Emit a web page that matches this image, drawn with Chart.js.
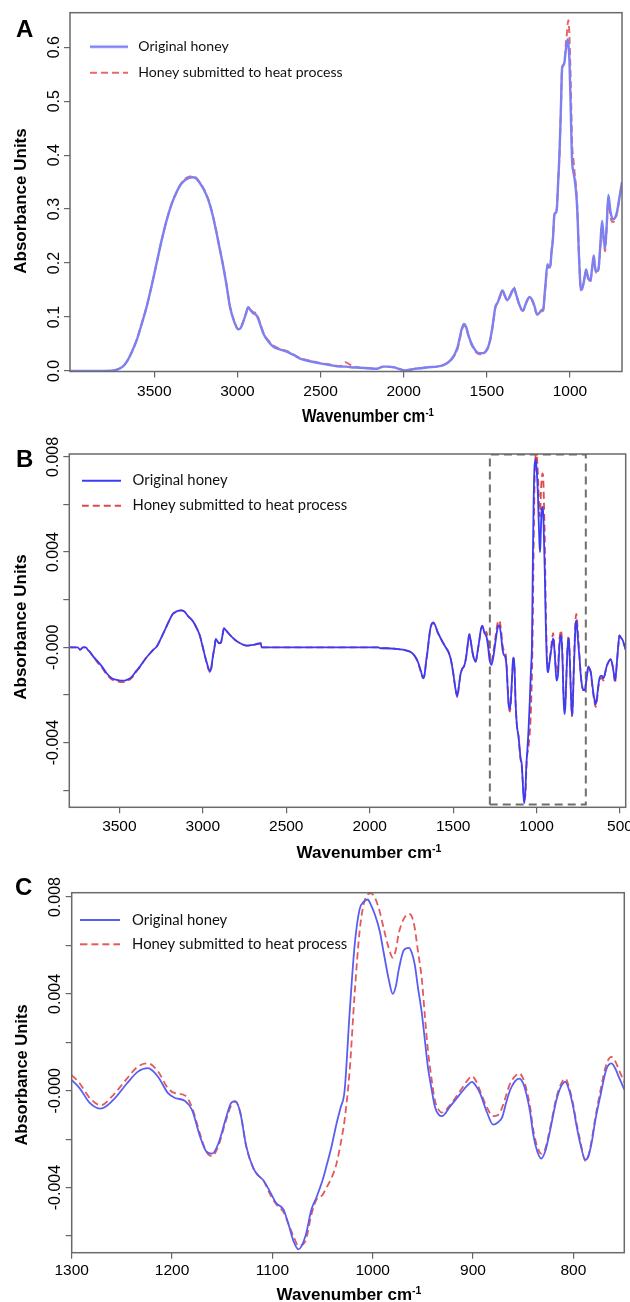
<!DOCTYPE html>
<html><head><meta charset="utf-8">
<script src="https://cdn.jsdelivr.net/npm/chart.js@4.4.1/dist/chart.umd.min.js"></script>
<style>
html,body{margin:0;padding:0;background:#fff;}
body{width:630px;height:1302px;position:relative;overflow:hidden;}
canvas{position:absolute;left:0;}
.lbl{position:absolute;font:bold 24px 'Liberation Sans',Arial,sans-serif;line-height:1;color:#000;}
.ttl{position:absolute;font-family:'Liberation Sans',Arial,sans-serif;font-weight:bold;line-height:1;color:#000;white-space:nowrap;}
.ttl sup{font-size:62%;vertical-align:0.5em;line-height:0;}
</style></head><body>
<canvas id="cA" width="630" height="430" style="top:0"></canvas>
<canvas id="cB" width="630" height="435" style="top:430px"></canvas>
<canvas id="cC" width="630" height="445" style="top:865px"></canvas>
<div class="lbl" style="left:16px;top:17px">A</div>
<div class="lbl" style="left:16px;top:447px">B</div>
<div class="lbl" style="left:15px;top:875px">C</div>
<div class="ttl" style="font-size:18px;left:368px;top:415.5px;transform:translate(-50%,-50%) scaleX(0.86)">Wavenumber cm<sup>-1</sup></div>
<div class="ttl" style="font-size:17px;left:369px;top:851.7px;transform:translate(-50%,-50%)">Wavenumber cm<sup>-1</sup></div>
<div class="ttl" style="font-size:17px;left:349px;top:1293.5px;transform:translate(-50%,-50%)">Wavenumber cm<sup>-1</sup></div>
<div class="ttl" style="font-size:17px;left:19.5px;top:200.8px;transform:translate(-50%,-50%) rotate(-90deg)">Absorbance Units</div>
<div class="ttl" style="font-size:17px;left:19.5px;top:627px;transform:translate(-50%,-50%) rotate(-90deg)">Absorbance Units</div>
<div class="ttl" style="font-size:16.5px;left:21px;top:1074.5px;transform:translate(-50%,-50%) rotate(-90deg)">Absorbance Units</div>
<script>
// ---------- Panel A: absorbance spectra ----------
const waveA = [4007,3900,3800,3760,3720,3690,3666,3640,3606,3576,
  3546,3516,3486,3456,3425,3395,3365,3340,3315,3290,
  3270,3250,3225,3200,3175,3150,3125,3105,3085,3065,
  3045,3020,2995,2980,2965,2950,2935,2920,2905,2885,
  2865,2845,2815,2784,2745,2704,2665,2624,2565,2504,
  2445,2383,2350,2320,2263,2210,2163,2123,2095,2063,
  2030,1992,1950,1902,1850,1802,1770,1742,1715,1692,
  1675,1662,1650,1637,1625,1613,1598,1583,1563,1543,
  1523,1503,1488,1473,1460,1449,1433,1420,1406,1392,
  1379,1358,1347,1337,1325,1313,1298,1283,1263,1243,
  1230,1217,1197,1185,1173,1159,1153,1147,1135,1127,
  1119,1111,1103,1093,1086,1079,1071,1063,1055,1047,
  1040,1033,1025,1017,1013,1009,1003,995,987,980,
  973,966,959,953,947,941,935,927,919,911,
  903,896,889,883,877,867,857,850,843,835,
  827,817,807,798,789,779,769,756,743,731,
  719,703,687];
const originalA = [0,0,0,0.0005,0.003,0.008,0.017,0.032,0.057,0.087,
  0.119,0.158,0.200,0.242,0.280,0.310,0.332,0.346,0.354,0.358,
  0.359,0.357,0.348,0.335,0.317,0.290,0.255,0.224,0.193,0.158,
  0.119,0.092,0.077,0.080,0.091,0.105,0.118,0.112,0.107,0.103,
  0.088,0.070,0.055,0.045,0.040,0.036,0.030,0.023,0.018,0.014,
  0.011,0.008,0.008,0.007,0.006,0.005,0.004,0.008,0.008,0.007,
  0.004,0.001,0.003,0.005,0.007,0.008,0.010,0.014,0.021,0.032,
  0.045,0.063,0.079,0.087,0.082,0.069,0.055,0.045,0.036,0.033,
  0.033,0.038,0.048,0.069,0.095,0.118,0.128,0.140,0.149,0.140,
  0.131,0.140,0.148,0.153,0.143,0.131,0.118,0.112,0.127,0.137,
  0.133,0.124,0.105,0.107,0.112,0.118,0.140,0.161,0.198,0.192,
  0.192,0.220,0.242,0.291,0.293,0.300,0.350,0.403,0.480,0.562,
  0.566,0.572,0.595,0.610,0.615,0.605,0.575,0.480,0.389,0.370,
  0.358,0.340,0.315,0.275,0.222,0.180,0.150,0.152,0.161,0.175,
  0.188,0.180,0.172,0.168,0.167,0.190,0.214,0.195,0.185,0.185,
  0.192,0.235,0.278,0.250,0.227,0.270,0.326,0.295,0.281,0.283,
  0.292,0.320,0.350];
const heatedA = [0,0,0,0.0005,0.003,0.008,0.017,0.032,0.057,0.087,
  0.119,0.158,0.200,0.242,0.280,0.310,0.332,0.347,0.356,0.360,
  0.361,0.359,0.349,0.336,0.318,0.291,0.256,0.225,0.194,0.159,
  0.120,0.093,0.078,0.081,0.092,0.105,0.118,0.113,0.109,0.106,
  0.090,0.072,0.057,0.047,0.041,0.037,0.031,0.024,0.019,0.015,
  0.012,0.009,0.016,0.011,0.006,0.005,0.004,0.008,0.008,0.007,
  0.004,0.001,0.003,0.005,0.007,0.008,0.010,0.014,0.020,0.030,
  0.042,0.060,0.076,0.084,0.080,0.067,0.053,0.043,0.034,0.031,
  0.032,0.037,0.047,0.067,0.093,0.117,0.127,0.138,0.147,0.139,
  0.132,0.142,0.150,0.155,0.144,0.130,0.116,0.111,0.126,0.136,
  0.132,0.122,0.104,0.106,0.110,0.113,0.137,0.158,0.196,0.190,
  0.191,0.221,0.244,0.292,0.295,0.302,0.350,0.400,0.478,0.562,
  0.568,0.575,0.605,0.630,0.645,0.650,0.620,0.530,0.420,0.395,
  0.370,0.350,0.322,0.280,0.225,0.182,0.151,0.153,0.162,0.175,
  0.186,0.178,0.168,0.165,0.166,0.188,0.210,0.192,0.182,0.183,
  0.190,0.230,0.270,0.245,0.222,0.266,0.320,0.285,0.276,0.279,
  0.290,0.318,0.348];
const xTicksA = [3500,3000,2500,2000,1500,1000];
const yTicksA = [0,0.1,0.2,0.3,0.4,0.5,0.6];
const yLabelsA = ['0.0','0.1','0.2','0.3','0.4','0.5','0.6'];

// ---------- Panel C: second derivative, 1300-750 cm-1 ----------
const waveC = [1300,1292,1282,1271,1259,1245,1234,1224,1214,1204,
  1197,1187,1180,1172,1166,1160,1154,1146,1141,1137,
  1132,1126,1119,1114,1109,1102,1096,1089,1084,1079,
  1074,1067,1061,1056,1050,1046,1041,1036,1032,1028,
  1023,1018,1013,1009,1005,1002,998,993,989,984,
  980,977,974,969,964,961,958,955,951,948,
  945,941,938,934,931,923,916,911,906,901,
  897,893,886,880,875,871,867,863,858,854,
  850,847,843,840,836,832,828,825,821,817,
  812,808,804,800,797,793,788,785,782,778,
  773,767,762,758,755,749];
const originalC = [0.00044,0.0001,-0.0005,-0.00074,-0.0004,0.0003,0.00079,0.00093,0.00058,-0.0001,
  -0.0003,-0.00042,-0.0008,-0.0019,-0.0025,-0.0026,-0.0022,-0.0011,-0.0005,-0.00043,
  -0.0009,-0.0023,-0.0032,-0.0035,-0.0037,-0.0042,-0.00465,-0.0049,-0.0055,-0.0062,
  -0.00655,-0.006,-0.0049,-0.0044,-0.0037,-0.0031,-0.0023,-0.00135,-0.0007,0.0,
  0.0032,0.006,0.0075,0.0078,0.0079,0.0077,0.0073,0.0066,0.0057,0.0046,
  0.004,0.0043,0.005,0.0058,0.0059,0.0057,0.0052,0.0043,0.0032,0.0021,
  0.001,0.0,-0.00066,-0.001,-0.00105,-0.00066,-0.0003,-0.00004,0.0002,0.00037,
  0.0002,-0.0001,-0.0009,-0.0014,-0.0013,-0.0011,-0.0005,0.00003,0.0004,0.0005,
  0.0003,-0.0001,-0.0009,-0.0018,-0.0025,-0.0028,-0.0025,-0.002,-0.0012,-0.0004,
  0.0002,0.00037,0.0,-0.0007,-0.0014,-0.0022,-0.00285,-0.0027,-0.0022,-0.0012,
  -0.0002,0.0009,0.00113,0.0009,0.0006,0.00003];
const heatedC = [0.00065,0.0003,-0.0003,-0.0006,-0.0002,0.0005,0.001,0.00113,0.0008,0.0001,
  -0.0001,-0.0002,-0.0007,-0.0018,-0.0025,-0.0027,-0.0023,-0.0012,-0.0006,-0.00045,
  -0.0009,-0.0023,-0.0032,-0.0035,-0.0037,-0.0043,-0.0047,-0.005,-0.0055,-0.006,
  -0.0064,-0.0062,-0.0051,-0.0045,-0.0043,-0.004,-0.0036,-0.003,-0.0022,-0.0012,
  0.0008,0.004,0.0066,0.0077,0.0081,0.00815,0.008,0.0074,0.0067,0.0059,
  0.0055,0.0058,0.0065,0.0071,0.0073,0.0072,0.0067,0.0058,0.0046,0.0031,
  0.0017,0.0004,-0.0004,-0.0008,-0.0009,-0.0006,-0.0002,0.0001,0.0004,0.0006,
  0.0004,0.0,-0.0007,-0.00105,-0.001,-0.0007,-0.0002,0.0003,0.0006,0.00072,
  0.0005,0.0001,-0.0007,-0.0016,-0.0023,-0.0026,-0.0024,-0.0019,-0.0011,-0.0003,
  0.0003,0.0005,0.0001,-0.0006,-0.0013,-0.0021,-0.0029,-0.0027,-0.0021,-0.0011,
  0.0,0.0011,0.0014,0.0012,0.0009,0.00034];
const xTicksC = [1300,1200,1100,1000,900,800];

// ---------- Panel B: second derivative, full range ----------
const waveBHigh = [3800,3770,3750,3735,3718,3700,3690,3676,3655,3635,
  3605,3575,3545,3516,3490,3470,3450,3426,3400,3376,
  3346,3316,3296,3276,3256,3236,3216,3196,3180,3166,
  3150,3132,3110,3087,3060,3036,3018,3000,2986,2976,
  2965,2955,2948,2940,2930,2922,2912,2903,2892,2882,
  2873,2860,2847,2820,2797,2767,2737,2700,2670,2652,
  2649,2300,1950,1935,1900,1850,1800,1778,1755,1738,
  1722,1708,1693,1680,1670,1662,1655,1646,1638,1628,
  1618,1606,1594,1576,1559,1545,1529,1514,1499,1487,
  1475,1465,1455,1445,1435,1427,1419,1411,1403,1393,
  1383,1374,1365,1354,1343,1335,1325,1312];
const originalBHigh = [0,0,0,-0.0001,0,0,-0.0001,-0.0002,-0.0004,-0.00055,
  -0.0008,-0.0011,-0.0013,-0.00137,-0.0014,-0.0014,-0.00135,-0.00124,-0.001,-0.0008,
  -0.0005,-0.00025,-0.0001,0.00003,0.0003,0.0006,0.0009,0.0012,0.0014,0.00147,
  0.00153,0.00155,0.0015,0.0013,0.0011,0.0008,0.0005,0,-0.0004,-0.00065,
  -0.0009,-0.001,-0.0008,-0.0004,0,0.00035,0.00025,0.00017,0.00018,0.0005,
  0.0008,0.0007,0.00059,0.0004,0.00026,0.00014,0.00007,0.0001,0.00015,0.00017,
  0,0,0,-0.00004,-0.00004,-0.00006,-0.0001,-0.00014,-0.0002,-0.0003,
  -0.00045,-0.00067,-0.001,-0.0013,-0.0011,-0.0006,-0.00025,0.0003,0.00073,0.001,
  0.00105,0.0009,0.00066,0.0004,0.00017,0,-0.00018,-0.0005,-0.0011,-0.0017,
  -0.00205,-0.0016,-0.0011,-0.0009,-0.0008,-0.0006,-0.00025,0.0002,0.00055,0.0002,
  -0.00025,-0.0005,-0.0006,-0.0002,0.0003,0.0007,0.0009,0.0006];
const heatedBHigh = [0,0,0,-0.0001,0,0,-0.0001,-0.0002,-0.0004,-0.0006,
  -0.00085,-0.00115,-0.00135,-0.00142,-0.00146,-0.00146,-0.0014,-0.00128,-0.00104,-0.00082,
  -0.0005,-0.00025,-0.0001,0.00003,0.0003,0.0006,0.0009,0.0012,0.0014,0.00147,
  0.00153,0.00155,0.0015,0.0013,0.0011,0.0008,0.0005,0,-0.0004,-0.0007,
  -0.00095,-0.00106,-0.00085,-0.0004,0,0.00033,0.00025,0.00018,0.0002,0.00052,
  0.0008,0.00072,0.0006,0.0004,0.00026,0.00014,0.00007,0.0001,0.00015,0.00017,
  0,0,0,-0.00004,-0.00004,-0.00006,-0.0001,-0.00014,-0.0002,-0.0003,
  -0.00047,-0.0007,-0.00105,-0.00128,-0.0011,-0.0006,-0.00025,0.00028,0.0007,0.00098,
  0.00102,0.00088,0.00065,0.0004,0.00017,0,-0.00018,-0.0005,-0.0011,-0.0017,
  -0.0021,-0.0016,-0.0011,-0.0009,-0.0008,-0.0006,-0.00025,0.0002,0.00055,0.0002,
  -0.00025,-0.0005,-0.0006,-0.0002,0.0003,0.0007,0.0009,0.0006];
const waveBLow = [743,736,728,720,712,706,698,690,682,674,
  667,660,653,646,638,630,623,616,608,600,
  590,580,568,556,550,544,537,530,523,516,
  510,504,494,484,475,466];
const originalBLow = [-0.0004,-0.0011,-0.0016,-0.0018,-0.0018,-0.0016,-0.0012,-0.0008,-0.0009,-0.0011,
  -0.0015,-0.0019,-0.0022,-0.0024,-0.0021,-0.0016,-0.0013,-0.0012,-0.0012,-0.0013,
  -0.0011,-0.0008,-0.0006,-0.0005,-0.0006,-0.0008,-0.0011,-0.0014,-0.001,-0.0004,
  0.0001,0.0005,0.0004,0.0003,0.0001,-0.0001];
const heatedBLow = [-0.0004,-0.0011,-0.0016,-0.0018,-0.0018,-0.0016,-0.0012,-0.0008,-0.0009,-0.0011,
  -0.0016,-0.002,-0.0023,-0.0025,-0.0022,-0.0017,-0.0014,-0.0013,-0.0013,-0.0014,
  -0.0011,-0.0008,-0.0006,-0.0005,-0.0006,-0.0008,-0.0011,-0.0015,-0.001,-0.0004,
  0.0001,0.0005,0.0004,0.0003,0.0001,-0.0001];
const xTicksB = [3500,3000,2500,2000,1500,1000,500];
const zoomBoxX = [1280, 705];
const zoomBoxY = [-0.0066, 0.0081];

const yTicksD = [-0.006,-0.004,-0.002,0,0.002,0.004,0.006,0.008];
const yLabelsD = ['','-0.004','','-0.000','','0.004','','0.008'];

const seriesNames = ['Original honey', 'Honey submitted to heat process'];

// ---------- drawing ----------
const TF = "'Liberation Sans', Arial, Helvetica, sans-serif";
const LF = "Lato, 'Open Sans', sans-serif";
const DASH = [7, 4];

const framePlugin = {
  id: 'frame',
  afterDatasetsDraw(chart) {
    const {ctx, chartArea: a} = chart;
    ctx.save();
    ctx.strokeStyle = '#6a6a6a';
    ctx.lineWidth = 1.5;
    ctx.strokeRect(a.left, a.top, a.right - a.left, a.bottom - a.top);
    ctx.restore();
  }
};
const legendPlace = {
  id: 'legendPlace',
  afterLayout(chart, args, opts) {
    const l = chart.legend;
    if (!l) return;
    const w = l.width, h = l.height;
    l.left = opts.x; l.top = opts.y; l.right = opts.x + w; l.bottom = opts.y + h;
  }
};

// small legend sample (solid or dashed line) used as the legend point style
function sample(color, width, len, dash) {
  const c = document.createElement('canvas');
  c.width = len; c.height = 6;
  const g = c.getContext('2d');
  g.strokeStyle = color; g.lineWidth = width;
  if (dash) g.setLineDash(dash);
  g.beginPath(); g.moveTo(0, 3); g.lineTo(len, 3); g.stroke();
  return c;
}

function pts(wave, vals) { return wave.map((w, i) => ({x: w, y: vals[i]})); }

function build(id, p) {
  const line = {pointRadius: 0, pointHoverRadius: 0, fill: false, tension: 0.4, cubicInterpolationMode: 'monotone'};
  const datasets = [
    Object.assign({label: seriesNames[0], data: pts(p.wave, p.orig), borderColor: p.blue, borderWidth: p.bw,
      pointStyle: sample(p.blue, p.bw, p.sampleLen, null)}, line),
    Object.assign({label: seriesNames[1], data: pts(p.wave, p.heat), borderColor: p.red, borderWidth: p.rw, borderDash: DASH,
      pointStyle: sample(p.red, p.rw, p.sampleLen, DASH)}, line)
  ];
  if (p.box) {
    const [x0, x1] = p.box.x, [y0, y1] = p.box.y;
    datasets.push({label: 'box', data: [{x:x0,y:y0},{x:x0,y:y1},{x:x1,y:y1},{x:x1,y:y0},{x:x0,y:y0}],
      borderColor: '#6e6e6e', borderWidth: 2, borderDash: [8, 5], pointRadius: 0, tension: 0, fill: false});
  }
  const gridOpts = {drawOnChartArea: false, drawTicks: true, tickLength: 6, color: '#666', lineWidth: 1.2};
  new Chart(document.getElementById(id), {
    type: 'line',
    data: {datasets},
    options: {
      responsive: false, animation: false,
      layout: {padding: {top: p.padTop, right: p.padRight, left: 0, bottom: 0}},
      plugins: {
        tooltip: {enabled: false},
        legend: {
          position: 'chartArea', align: 'start',
          labels: {usePointStyle: true, pointStyleWidth: p.boxW, color: '#111',
            font: {family: LF, size: p.lf}, padding: p.lpad,
            filter: item => item.datasetIndex < 2}
        },
        legendPlace: {x: p.lx, y: p.ly}
      },
      scales: {
        x: {
          type: 'linear', reverse: true, min: p.xMin, max: p.xMax,
          afterBuildTicks: s => { s.ticks = p.xTicks.map(v => ({value: v})); },
          afterFit: s => { s.height = p.xHeight; s.paddingLeft = 0; s.paddingRight = 0; },
          ticks: {autoSkip: false, maxRotation: 0, minRotation: 0, padding: p.xPad,
            font: {family: TF, size: p.xf}, color: '#000', callback: v => String(v)},
          grid: gridOpts, border: {display: false},
          title: {display: false}
        },
        y: {
          type: 'linear', min: p.yMin, max: p.yMax,
          afterBuildTicks: s => { s.ticks = p.yTicks.map(v => ({value: v})); },
          afterFit: s => { s.width = p.yWidth; s.paddingTop = 0; s.paddingBottom = 0; },
          ticks: {autoSkip: false, minRotation: 90, maxRotation: 90, crossAlign: 'center', padding: p.yPad,
            font: {family: TF, size: 16}, color: '#000', callback: (v, i) => p.yLabels[i]},
          grid: gridOpts, border: {display: false},
          title: {display: false}
        }
      }
    },
    plugins: [framePlugin, legendPlace]
  });
}

build('cA', {
  wave: waveA, orig: originalA, heat: heatedA,
  blue: '#7d80f2', red: '#e86868', bw: 2.4, rw: 2,
  xMin: 687, xMax: 4007, xTicks: xTicksA,
  yMin: -0.001, yMax: 0.664, yTicks: yTicksA, yLabels: yLabelsA,
  padTop: 12.7, padRight: 8, yWidth: 70, xHeight: 58.5,
  xPad: 4.5, xf: 15.5, yPad: -1.5,
  lf: 14.1, lpad: 11.9, lx: 74.85, ly: 27.75, boxW: 44.5, sampleLen: 38
});
build('cB', {
  wave: [...waveBHigh, ...waveC, ...waveBLow],
  orig: [...originalBHigh, ...originalC, ...originalBLow],
  heat: [...heatedBHigh, ...heatedC, ...heatedBLow],
  blue: '#3b3cf6', red: '#e04848', bw: 1.8, rw: 1.8,
  xMin: 466, xMax: 3800, xTicks: xTicksB,
  yMin: -0.00672, yMax: 0.00812, yTicks: yTicksD, yLabels: yLabelsD,
  padTop: 24, padRight: 4.3, yWidth: 69.3, xHeight: 57.7,
  xPad: 3.8, xf: 15.5, yPad: -12.9,
  lf: 14.8, lpad: 10.2, lx: 67.0, ly: 33.1, boxW: 48, sampleLen: 39,
  box: {x: zoomBoxX, y: zoomBoxY}
});
build('cC', {
  wave: waveC, orig: originalC, heat: heatedC,
  blue: '#5a5df2', red: '#e25a5a', bw: 1.8, rw: 1.8,
  xMin: 749.2, xMax: 1300, xTicks: xTicksC,
  yMin: -0.00669, yMax: 0.00818, yTicks: yTicksD, yLabels: yLabelsD,
  padTop: 27.7, padRight: 5.7, yWidth: 71.7, xHeight: 57.3,
  xPad: 3.2, xf: 15.5, yPad: -12.5,
  lf: 14.85, lpad: 9.45, lx: 66.65, ly: 38.1, boxW: 48.5, sampleLen: 40
});
</script>
</body></html>
